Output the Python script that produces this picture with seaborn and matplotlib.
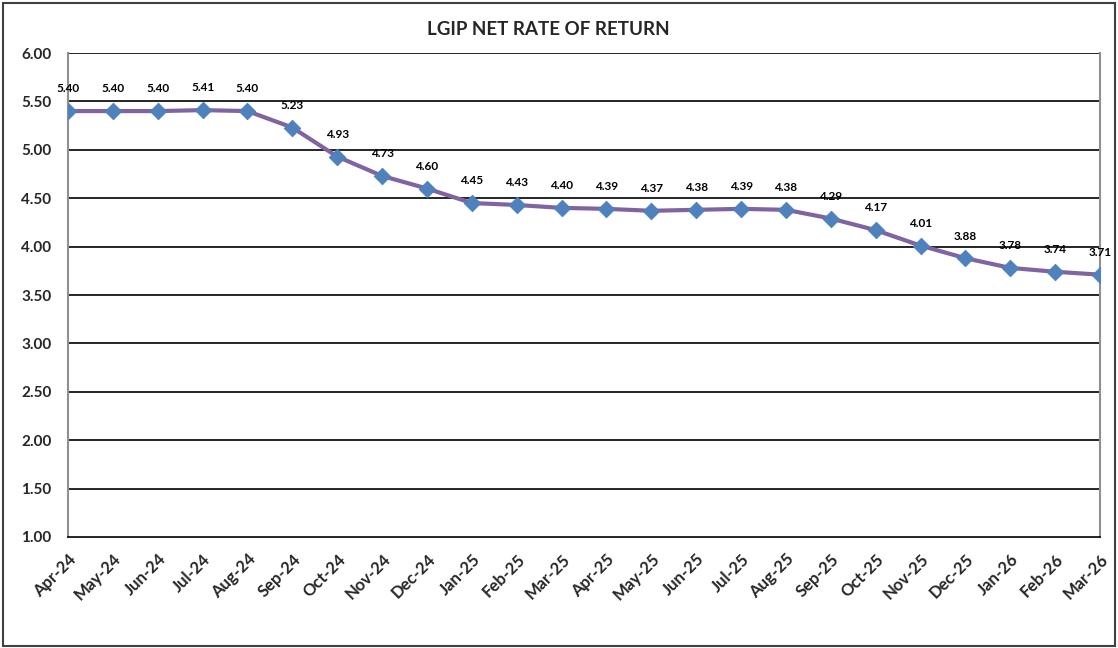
import matplotlib
matplotlib.use("Agg")
import matplotlib.pyplot as plt
from matplotlib.patches import Rectangle
import seaborn as sns
import pandas as pd

# =========================
# DATA
# =========================

months = ["Apr-24", "May-24", "Jun-24", "Jul-24", "Aug-24", "Sep-24", "Oct-24",
          "Nov-24", "Dec-24", "Jan-25", "Feb-25", "Mar-25", "Apr-25", "May-25",
          "Jun-25", "Jul-25", "Aug-25", "Sep-25", "Oct-25", "Nov-25", "Dec-25",
          "Jan-26", "Feb-26", "Mar-26"]
net_rate = [5.40, 5.40, 5.40, 5.41, 5.40, 5.23, 4.93, 4.73, 4.60, 4.45, 4.43,
            4.40, 4.39, 4.37, 4.38, 4.39, 4.38, 4.29, 4.17, 4.01, 3.88, 3.78,
            3.74, 3.71]
y_ticks = [1.00, 1.50, 2.00, 2.50, 3.00, 3.50, 4.00, 4.50, 5.00, 5.50, 6.00]

df = pd.DataFrame({"month": months, "rate": net_rate})
df["pos"] = range(len(df))

# =========================
# PLOT
# =========================

sns.set_style("white")
plt.rcParams["font.family"] = ["Lato", "DejaVu Sans"]

fig = plt.figure(figsize=(11.18, 6.48), dpi=100)
ax = fig.add_axes([0.0608, 0.1713, 0.9232, 0.7469])

# outer chart border
fig.patches.append(Rectangle((0.003, 0.003), 0.994, 0.992, transform=fig.transFigure,
                             fill=False, edgecolor="#404040", linewidth=1.5))

for y in y_ticks[1:]:
    ax.axhline(y, color="black", linewidth=1.2, zorder=1)

sns.lineplot(data=df, x="pos", y="rate", ax=ax, color="#8064A2", linewidth=3,
             zorder=3)
sns.scatterplot(data=df, x="pos", y="rate", ax=ax, marker="D", s=70,
                color="#4F81BD", edgecolor="#4F81BD", zorder=4)

for i, v in enumerate(net_rate):
    ax.annotate(f"{v:.2f}", (i, v), xytext=(0, 12), textcoords="offset points",
                ha="center", va="bottom", fontsize=8.5, fontweight="bold",
                color="black", zorder=5)

ax.set_xlim(0, len(months) - 1)
ax.set_ylim(1.0, 6.0)
ax.set_yticks(y_ticks)
ax.set_yticklabels([f"{t:.2f}" for t in y_ticks], fontsize=11, fontweight="bold")
ax.set_xticks(df["pos"])
ax.set_xticklabels(months, rotation=45, ha="right", rotation_mode="anchor",
                   fontsize=12, fontweight="bold")
ax.tick_params(axis="y", length=0, pad=12)
ax.tick_params(axis="x", length=0, pad=10)
ax.set_xlabel("")
ax.set_ylabel("")

for side in ["left", "right", "top"]:
    ax.spines[side].set_color("#909090")
    ax.spines[side].set_linewidth(1.5)
ax.spines["bottom"].set_color("black")
ax.spines["bottom"].set_linewidth(1.2)
ax.spines["top"].set_visible(False)

fig.text(0.49, 0.955, "LGIP NET RATE OF RETURN", ha="center", va="center",
         fontsize=13.5, fontweight="bold")

fig.savefig("out.png", dpi=100)
